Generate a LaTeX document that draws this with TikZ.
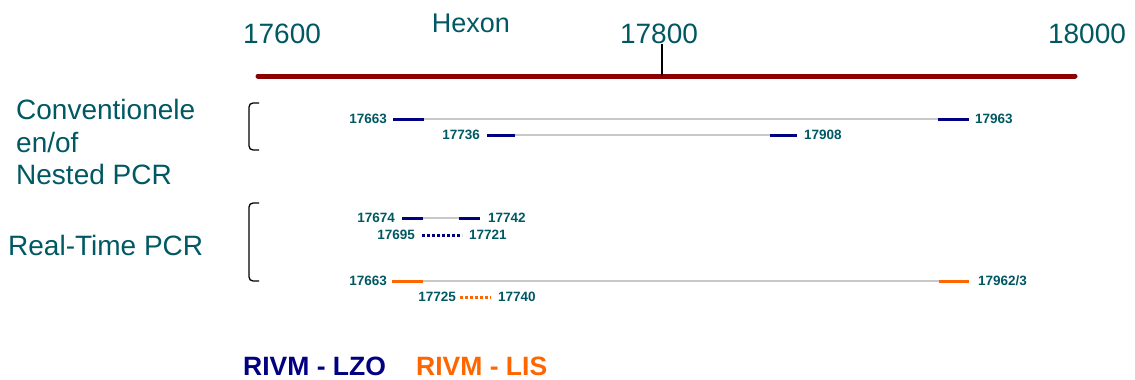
\documentclass[tikz,border=0pt]{standalone}
\usepackage{fontspec}
\setmainfont{Liberation Sans}
\usetikzlibrary{positioning}
\definecolor{tealc}{RGB}{0,88,98}
\definecolor{navyc}{RGB}{0,0,128}
\definecolor{orangec}{RGB}{255,102,0}
\definecolor{darkredc}{RGB}{139,0,0}
\definecolor{grayc}{RGB}{200,200,200}
\begin{document}
\begin{tikzpicture}[x=1pt,y=-1pt,
  bigtxt/.style={font=\fontsize{28}{32}\selectfont, text=tealc, inner sep=0pt},
  numlbl/.style={font=\bfseries\fontsize{13.5}{15}\selectfont, text=tealc, inner sep=0pt},
  legtxt/.style={font=\bfseries\fontsize{26.5}{30}\selectfont, inner sep=0pt},
  primerline/.style={line width=3pt},
  ampline/.style={line width=1.5pt, color=grayc},
  probeline/.style={line width=3pt, dash pattern=on 3pt off 2pt},
  bracketline/.style={line width=1.3pt, rounded corners=4pt}
]
\useasboundingbox (0,0) rectangle (1135,380);

% axis
\coordinate (axL) at (258,76);
\coordinate (axR) at (1075,76);
\coordinate (tickTop) at (662,44);
\coordinate (tickBot) at (662,76);
\draw[darkredc, line width=5pt, line cap=round] (axL) -- (axR);
\draw[black, line width=1.2pt] (tickTop) -- (tickBot);
\node[bigtxt, anchor=base] (t17600) at (282,43) {17600};
\node[bigtxt, anchor=base] (t17800) at (659,43) {17800};
\node[bigtxt, anchor=base] (t18000) at (1087,43) {18000};
\node[bigtxt, font=\fontsize{27}{31}\selectfont, anchor=base] (hexon) at (471,32) {Hexon};

% left labels
\node[bigtxt, anchor=base west] (conv1) at (16,119) {Conventionele};
\node[bigtxt, anchor=base west] (conv2) at (16,152) {en/of};
\node[bigtxt, anchor=base west] (conv3) at (16,184) {Nested PCR};
\node[bigtxt, anchor=base west] (rt) at (8,255) {Real-Time PCR};

% brackets
\coordinate (b1a) at (259,103); \coordinate (b1b) at (249,103);
\coordinate (b1c) at (249,150); \coordinate (b1d) at (259,150);
\draw[bracketline] (b1a) -- (b1b) -- (b1c) -- (b1d);
\coordinate (b2a) at (259,203); \coordinate (b2b) at (249,203);
\coordinate (b2c) at (249,281); \coordinate (b2d) at (259,281);
\draw[bracketline] (b2a) -- (b2b) -- (b2c) -- (b2d);

% row 1
\coordinate (r1a) at (393,119); \coordinate (r1b) at (424,119);
\coordinate (r1c) at (938,119); \coordinate (r1d) at (969,119);
\draw[ampline] (r1b) -- (r1c);
\draw[primerline, navyc] (r1a) -- (r1b);
\draw[primerline, navyc] (r1c) -- (r1d);
\node[numlbl, left=6pt of r1a] (l17663a) {17663};
\node[numlbl, right=6pt of r1d] (l17963) {17963};

% row 2
\coordinate (r2a) at (487,135); \coordinate (r2b) at (515,135);
\coordinate (r2c) at (770,135); \coordinate (r2d) at (797,135);
\draw[ampline] (r2b) -- (r2c);
\draw[primerline, navyc] (r2a) -- (r2b);
\draw[primerline, navyc] (r2c) -- (r2d);
\node[numlbl, left=7pt of r2a] (l17736) {17736};
\node[numlbl, right=7pt of r2d] (l17908) {17908};

% row 3
\coordinate (r3a) at (402,218); \coordinate (r3b) at (423,218);
\coordinate (r3c) at (459,218); \coordinate (r3d) at (480,218);
\draw[ampline] (r3b) -- (r3c);
\draw[primerline, navyc] (r3a) -- (r3b);
\draw[primerline, navyc] (r3c) -- (r3d);
\node[numlbl, left=7pt of r3a] (l17674) {17674};
\node[numlbl, right=8pt of r3d] (l17742) {17742};

% row 4 (probe)
\coordinate (r4a) at (422,235); \coordinate (r4b) at (462,235);
\draw[probeline, navyc] (r4a) -- (r4b);
\node[numlbl, left=7pt of r4a] (l17695) {17695};
\node[numlbl, right=7pt of r4b] (l17721) {17721};

% row 5
\coordinate (r5a) at (392,281); \coordinate (r5b) at (423,281);
\coordinate (r5c) at (939,281); \coordinate (r5d) at (969,281);
\draw[ampline] (r5b) -- (r5c);
\draw[primerline, orangec] (r5a) -- (r5b);
\draw[primerline, orangec] (r5c) -- (r5d);
\node[numlbl, left=5pt of r5a] (l17663b) {17663};
\node[numlbl, right=9pt of r5d] (l17962) {17962/3};

% row 6 (probe)
\coordinate (r6a) at (460,297); \coordinate (r6b) at (491,297);
\draw[probeline, orangec] (r6a) -- (r6b);
\node[numlbl, left=4pt of r6a] (l17725) {17725};
\node[numlbl, right=7pt of r6b] (l17740) {17740};

% legend
\node[legtxt, text=navyc, anchor=base west] (legLZO) at (243,375) {RIVM - LZO};
\node[legtxt, text=orangec, anchor=base west] (legLIS) at (416,375) {RIVM - LIS};
\end{tikzpicture}
\end{document}
